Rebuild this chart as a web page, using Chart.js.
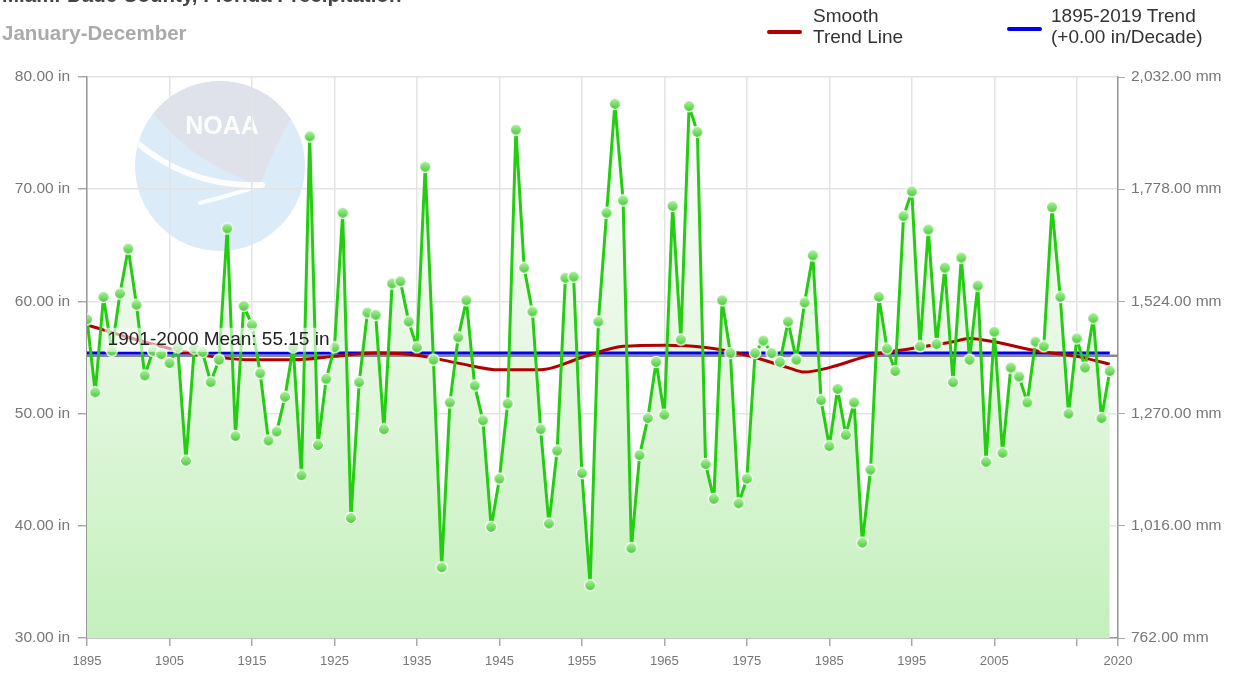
<!DOCTYPE html>
<html>
<head>
<meta charset="utf-8">
<script src="https://cdn.jsdelivr.net/npm/chart.js@4.4.1/dist/chart.umd.min.js"></script>
<style>
  body { margin:0; background:#fff; font-family:"Liberation Sans", Arial, sans-serif; }
  #wrap { position:relative; width:1236px; height:675px; overflow:hidden; }
  #chart { position:absolute; left:0; top:0; }
  .txt { position:absolute; white-space:nowrap; }
  .titulo { left:2px; top:-17px; font-size:20.5px; line-height:24px; font-weight:bold; color:#444; }
  .sub { left:2px; top:21px; font-size:20.5px; line-height:24px; font-weight:bold; color:#aaa; }
  .leg { font-size:19px; line-height:21px; color:#333; top:5px; }
  .amostra { position:absolute; height:4px; width:35px; border-radius:2px; }
</style>
</head>
<body>
<div id="wrap">
  <canvas id="chart" width="1236" height="675"></canvas>
  <div class="txt titulo">Miami-Dade County, Florida Precipitation</div>
  <div class="txt sub">January-December</div>
  <div class="amostra" style="left:767px; top:30px; background:#b20000;"></div>
  <div class="txt leg" style="left:813px;">Smooth<br>Trend Line</div>
  <div class="amostra" style="left:1007px; top:27px; background:#0000ee;"></div>
  <div class="txt leg" style="left:1051px;">1895-2019 Trend<br>(+0.00 in/Decade)</div>
</div>
<script>
// --- Dados ---
const firstYear = 1895;
// precipitacao anual, polegadas, 1895..2019
const precip = [
  58.4, 51.9, 60.4, 55.6, 60.7, 64.7, 59.7, 53.4, 55.6, 55.3,
  54.5, 55.9, 45.8, 55.8, 55.5, 52.8, 54.8, 66.5, 48.0, 59.6,
  57.9, 53.6, 47.6, 48.4, 51.5, 55.9, 44.5, 74.7, 47.2, 53.1,
  55.9, 67.9, 40.7, 52.8, 59.0, 58.8, 48.6, 61.6, 61.8, 58.2,
  55.9, 72.0, 54.8, 36.3, 51.0, 56.8, 60.1, 52.5, 49.4, 39.9,
  44.2, 50.9, 75.3, 63.0, 59.1, 48.6, 40.2, 46.7, 62.1, 62.2,
  44.7, 34.7, 58.2, 67.9, 77.6, 69.0, 38.0, 46.3, 49.6, 54.6,
  49.9, 68.5, 56.6, 77.4, 75.1, 45.5, 42.4, 60.1, 55.4, 42.0,
  44.2, 55.4, 56.5, 55.4, 54.6, 58.2, 54.8, 59.9, 64.1, 51.2,
  47.1, 52.2, 48.1, 51.0, 38.5, 45.0, 60.4, 55.8, 53.8, 67.6,
  69.8, 56.0, 66.4, 56.2, 63.0, 52.8, 63.9, 54.8, 61.4, 45.7,
  57.3, 46.5, 54.1, 53.3, 51.0, 56.4, 56.0, 68.4, 60.4, 50.0,
  56.7, 54.1, 58.5, 49.6, 53.8
];
const smoothYears = [1895,1900,1905,1910,1915,1920,1925,1930,1935,1940,1945,1950,1955,1960,
  1965,1970,1975,1980,1982,1985,1990,1995,2000,2002,2005,2010,2015,2019];
const smoothVals = [57.9,56.8,55.8,55.1,54.8,54.8,55.1,55.4,55.2,54.5,53.9,53.9,55.0,56.0,
  56.1,55.9,55.2,54.1,53.7,54.1,55.2,55.8,56.4,56.7,56.4,55.6,55.1,54.4];
const trendYears = [1895, 2019];
const trendVals = [55.4, 55.4];
const meanYears = [1895, 2020];
const meanVal = 55.15;
const meanLabel = '1901-2000 Mean: 55.15 in';
const xTicks = [1895,1905,1915,1925,1935,1945,1955,1965,1975,1985,1995,2005,2015,2020];
const inTicks = [30,40,50,60,70,80];
const mmTicks = [762,1016,1270,1524,1778,2032];

const pts = precip.map((v, i) => ({ x: firstYear + i, y: v }));
const toXY = (xs, ys) => xs.map((x, i) => ({ x, y: ys[i] }));

// bolinha verde com brilho (pointStyle em canvas)
function makeDot(){
  const cv = document.createElement('canvas'); cv.width = 14; cv.height = 14;
  const c = cv.getContext('2d');
  const g = c.createLinearGradient(0, 1, 0, 13);
  g.addColorStop(0, '#b4f2a6'); g.addColorStop(1, '#3fcb2d');
  c.beginPath(); c.arc(7, 7, 5.6, 0, Math.PI*2);
  c.fillStyle = g; c.fill();
  c.lineWidth = 1.2; c.strokeStyle = '#fff'; c.stroke();
  return cv;
}

// --- logo NOAA (marca d'agua, atras da grade) ---
const noaaLogo = {
  id: 'noaaLogo',
  beforeDraw(chart){
    const c = chart.ctx;
    const cx = 220, cy = 166, r = 85;
    c.save();
    c.beginPath(); c.arc(cx, cy, r, 0, Math.PI*2); c.fillStyle = '#dbebf7'; c.fill();
    c.clip();
    c.beginPath();
    c.moveTo(152, 112);
    c.quadraticCurveTo(192, 162, 260, 186);
    c.quadraticCurveTo(272, 150, 296, 110);
    c.lineTo(300, 60); c.lineTo(140, 60); c.closePath();
    c.fillStyle = '#dfe2eb'; c.fill();
    c.strokeStyle = 'rgba(255,255,255,0.9)'; c.lineCap = 'round';
    c.lineWidth = 6;
    c.beginPath(); c.moveTo(136, 142); c.quadraticCurveTo(190, 188, 262, 185); c.stroke();
    c.lineWidth = 4;
    c.beginPath(); c.moveTo(262, 185); c.quadraticCurveTo(228, 196, 200, 203); c.stroke();
    c.fillStyle = 'rgba(255,255,255,0.95)';
    c.font = 'bold 25px "Liberation Sans", Arial';
    c.textAlign = 'center'; c.textBaseline = 'middle';
    c.fillText('NOAA', 222, 127);
    c.restore();
  }
};

// --- rotulo da media 1901-2000 ---
const meanTag = {
  id: 'meanTag',
  afterDatasetsDraw(chart){
    const c = chart.ctx;
    const x = chart.scales.x.getPixelForValue(1897.5);
    const y = chart.scales.y.getPixelForValue(meanVal);
    c.save();
    c.font = '19px "Liberation Sans", Arial';
    const w = c.measureText(meanLabel).width;
    c.fillStyle = 'rgba(255,255,255,0.6)';
    c.fillRect(x - 3, y - 28, w + 6, 24);
    c.fillStyle = '#222'; c.textBaseline = 'alphabetic';
    c.fillText(meanLabel, x, y - 11);
    c.restore();
  }
};

const fmtMm = v => v.toLocaleString('en-US', { minimumFractionDigits: 2, maximumFractionDigits: 2 }) + ' mm';
const gridColor = '#e3e3e3';
const axisColor = '#999';
const tickFont = { family: '"Liberation Sans", Arial', size: 15.5 };

new Chart(document.getElementById('chart'), {
  type: 'line',
  data: {
    datasets: [
      {
        label: 'Precipitation',
        data: pts,
        borderColor: '#24cc12', borderWidth: 3, tension: 0, borderJoinStyle: 'round',
        pointStyle: makeDot(), pointRadius: 6,
        fill: 'start',
        backgroundColor: ctx => {
          const a = ctx.chart.chartArea;
          if(!a) return 'rgba(200,240,190,0.6)';
          const g = ctx.chart.ctx.createLinearGradient(0, a.top, 0, a.bottom);
          g.addColorStop(0, '#ffffff');
          g.addColorStop(0.4, '#ebf9e8');
          g.addColorStop(1, '#c4f0bc');
          return g;
        },
        order: 0
      },
      { label: 'Smooth Trend Line', data: toXY(smoothYears, smoothVals), borderColor: '#b20000', borderWidth: 3,
        cubicInterpolationMode: 'monotone', pointRadius: 0, fill: false, order: 1 },
      { label: '1895-2019 Trend', data: toXY(trendYears, trendVals), borderColor: '#0000ee', borderWidth: 3,
        pointRadius: 0, fill: false, order: 2 },
      { label: 'Mean', data: meanYears.map(x => ({ x, y: meanVal })), borderColor: '#8a8a8a', borderWidth: 2.5,
        pointRadius: 0, fill: false, order: 3 }
    ]
  },
  options: {
    responsive: false, animation: false,
    layout: { padding: { top: 77, left: 0, right: 0, bottom: 0 } },
    plugins: { legend: { display: false }, tooltip: { enabled: false }, filler: { drawTime: 'beforeDatasetsDraw' } },
    scales: {
      x: {
        type: 'linear', min: 1895, max: 2020,
        afterBuildTicks: ax => { ax.ticks = xTicks.map(v => ({ value: v })); },
        afterFit: ax => { ax.height = 37; },
        ticks: { color: '#777', font: { ...tickFont, size: 13 }, padding: 8, maxRotation: 0, autoSkip: false,
                 callback: v => v === 2015 ? '' : String(v) },
        grid: { color: gridColor, lineWidth: 1.5, tickLength: 8, tickColor: '#aaa' },
        border: { color: axisColor, width: 1.5 }
      },
      y: {
        position: 'left', min: 30, max: 80,
        afterBuildTicks: ax => { ax.ticks = inTicks.map(v => ({ value: v })); },
        afterFit: ax => { ax.width = 87; },
        ticks: { color: '#777', font: tickFont, padding: 8, callback: v => v.toFixed(2) + ' in' },
        grid: { color: gridColor, lineWidth: 1.5, tickLength: 9, tickColor: '#aaa' },
        border: { color: axisColor, width: 1.5 }
      },
      y2: {
        position: 'right', min: 762, max: 2032,
        afterBuildTicks: ax => { ax.ticks = mmTicks.map(v => ({ value: v })); },
        afterFit: ax => { ax.width = 118; },
        ticks: { color: '#777', font: tickFont, padding: 6, callback: fmtMm },
        grid: { drawOnChartArea: false, tickLength: 7, tickColor: '#aaa' },
        border: { color: axisColor, width: 1.5 }
      }
    }
  },
  plugins: [noaaLogo, meanTag]
});
</script>
</body>
</html>
